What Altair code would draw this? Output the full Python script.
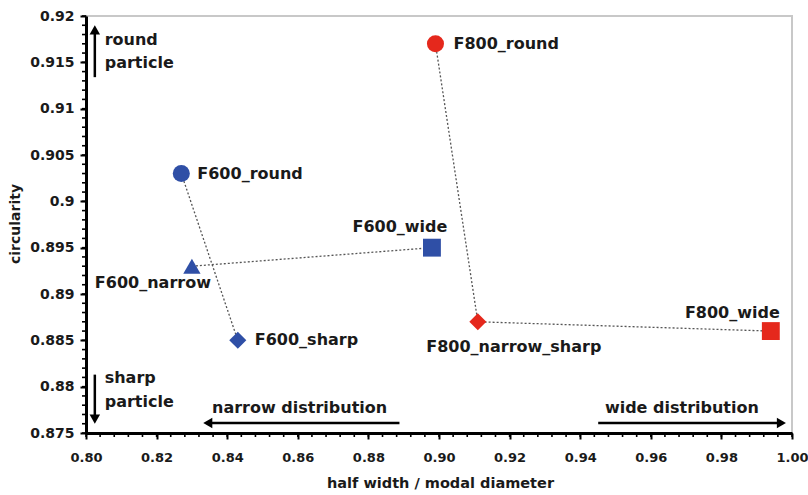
import altair as alt
import pandas as pd

# ---- data ----
names = ["F600_round", "F600_narrow", "F600_sharp", "F600_wide",
         "F800_round", "F800_narrow_sharp", "F800_wide"]
half_width = [0.827, 0.830, 0.843, 0.898, 0.899, 0.911, 0.994]
circularity = [0.903, 0.893, 0.885, 0.895, 0.917, 0.887, 0.886]
series = ["F600", "F600", "F600", "F600", "F800", "F800", "F800"]
shapes = ["circle", "triangle-up", "diamond", "square", "circle", "diamond", "square"]

# connecting dotted lines (groups of point names)
links = [["F600_round", "F600_sharp"],
         ["F600_narrow", "F600_wide"],
         ["F800_round", "F800_narrow_sharp", "F800_wide"]]

x_ticks = [0.80, 0.82, 0.84, 0.86, 0.88, 0.90, 0.92, 0.94, 0.96, 0.98, 1.00]
y_ticks = [0.875, 0.88, 0.885, 0.89, 0.895, 0.90, 0.905, 0.91, 0.915, 0.92]
x_minor = [round(0.80 + 0.004 * k, 3) for k in range(51)]
y_minor = [round(0.875 + 0.001 * k, 3) for k in range(46)]

# ---- styles ----
BLUE = "#2f4fa6"
RED = "#e5281c"
FONT = "DejaVu Sans"
TXT = "#1a1a1a"

df = pd.DataFrame({"name": names, "x": half_width, "y": circularity,
                   "series": series, "shape": shapes})

line_rows = []
for gi, grp in enumerate(links):
    for oi, n in enumerate(grp):
        i = names.index(n)
        line_rows.append({"g": gi, "o": oi, "x": half_width[i], "y": circularity[i]})
ldf = pd.DataFrame(line_rows)

xs = alt.Scale(domain=[0.80, 1.00], nice=False, zero=False)
ys = alt.Scale(domain=[0.875, 0.92], nice=False, zero=False)

W, H = 706, 417

x_axis = alt.Axis(values=x_ticks, tickCount=100, labelOverlap=False, format=".2f",
                  title="half width / modal diameter", grid=False,
                  domainColor="black", domainWidth=3, tickColor="black", tickWidth=2, tickSize=6,
                  labelFont=FONT, labelFontSize=13, labelFontWeight="bold", labelColor=TXT,
                  labelPadding=12, titleFont=FONT, titleFontSize=14.5, titleFontWeight="bold",
                  titleColor=TXT, titleX=W / 2 + 1, titleY=50, titleBaseline="middle",
                  titleAlign="center", labelFlush=False)
y_axis = alt.Axis(values=y_ticks, tickCount=100, labelOverlap=False, format="~g",
                  title="circularity", grid=False,
                  domainColor="black", domainWidth=3, tickColor="black", tickWidth=2, tickSize=6,
                  labelFont=FONT, labelFontSize=14, labelFontWeight="bold", labelColor=TXT,
                  labelPadding=6, titleFont=FONT, titleFontSize=14, titleFontWeight="bold",
                  titleColor=TXT, titleX=-71, titleY=H / 2 - 1, titleAngle=270,
                  titleBaseline="middle", titleAlign="center", labelFlush=False)

lines = alt.Chart(ldf).mark_line(color="#555", strokeDash=[2, 2], strokeWidth=1.3).encode(
    x=alt.X("x:Q", scale=xs, axis=x_axis),
    y=alt.Y("y:Q", scale=ys, axis=y_axis),
    detail="g:N", order="o:Q")

# minor ticks
xm = alt.Chart(pd.DataFrame({"v": x_minor})).mark_rule(color="black", strokeWidth=1.6).encode(
    x=alt.X("v:Q", scale=xs), y=alt.value(H), y2=alt.value(H + 4))
ym = alt.Chart(pd.DataFrame({"v": y_minor})).mark_rule(color="black", strokeWidth=1.6).encode(
    y=alt.Y("v:Q", scale=ys), x=alt.value(0), x2=alt.value(-4))

color = alt.Color("series:N", scale=alt.Scale(domain=["F600", "F800"], range=[BLUE, RED]), legend=None)

pts = []
for shp, size in [("circle", 290), ("triangle-up", 300), ("diamond", 290), ("square", 320)]:
    pts.append(alt.Chart(df).transform_filter(alt.datum.shape == shp).mark_point(
        shape=shp, filled=True, opacity=1, size=size).encode(
        x=alt.X("x:Q", scale=xs), y=alt.Y("y:Q", scale=ys), color=color))

# label placement (styles)
label_style = {
    "F600_round": dict(align="left", dx=16, dy=0),
    "F600_narrow": dict(align="center", dx=-39, dy=17),
    "F600_sharp": dict(align="left", dx=17, dy=0),
    "F600_wide": dict(align="center", dx=-32, dy=-21),
    "F800_round": dict(align="left", dx=18, dy=0),
    "F800_narrow_sharp": dict(align="center", dx=36, dy=25),
    "F800_wide": dict(align="right", dx=9, dy=-18),
}
labels = []
for n, st in label_style.items():
    labels.append(alt.Chart(df).transform_filter(alt.datum.name == n).mark_text(
        font=FONT, fontSize=16, fontWeight="bold", color=TXT, baseline="middle", **st).encode(
        x=alt.X("x:Q", scale=xs), y=alt.Y("y:Q", scale=ys), text="name:N"))

# ---- annotations ----
ann_arrow_x1 = [0.8025, 0.8025, 0.8888, 0.9451]
ann_arrow_x2 = [0.8025, 0.8025, 0.8345, 0.9970]
ann_arrow_y1 = [0.9134, 0.8813, 0.87608, 0.87608]
ann_arrow_y2 = [0.9185, 0.8765, 0.87608, 0.87608]
head_angle = [0, 180, 270, 90]
adf = pd.DataFrame({"x1": ann_arrow_x1, "x2": ann_arrow_x2, "y1": ann_arrow_y1,
                    "y2": ann_arrow_y2, "angle": head_angle})
shafts = alt.Chart(adf).mark_rule(color="black", strokeWidth=2.5).encode(
    x=alt.X("x1:Q", scale=xs), x2="x2:Q", y=alt.Y("y1:Q", scale=ys), y2="y2:Q")
heads = alt.Chart(adf).mark_point(shape="triangle-up", filled=True, color="black",
                                  opacity=1, size=110).encode(
    x=alt.X("x2:Q", scale=xs), y=alt.Y("y2:Q", scale=ys),
    angle=alt.Angle("angle:Q", scale=None))

ann_text = ["round", "particle", "sharp", "particle", "narrow distribution", "wide distribution"]
ann_x = [0.8053, 0.8053, 0.8053, 0.8053, 0.8605, 0.9688]
ann_y = [0.9174, 0.9149, 0.8809, 0.8783, 0.87775, 0.87775]
ann_align = ["left", "left", "left", "left", "center", "center"]
tdf = pd.DataFrame({"t": ann_text, "x": ann_x, "y": ann_y, "al": ann_align})
ann_left = alt.Chart(tdf).transform_filter(alt.datum.al == "left").mark_text(
    font=FONT, fontSize=16, fontWeight="bold", color=TXT, align="left", baseline="middle").encode(
    x=alt.X("x:Q", scale=xs), y=alt.Y("y:Q", scale=ys), text="t:N")
ann_center = alt.Chart(tdf).transform_filter(alt.datum.al == "center").mark_text(
    font=FONT, fontSize=16, fontWeight="bold", color=TXT, align="center", baseline="middle").encode(
    x=alt.X("x:Q", scale=xs), y=alt.Y("y:Q", scale=ys), text="t:N")

chart = alt.layer(lines, xm, ym, *pts, *labels, shafts, heads, ann_left, ann_center).properties(
    width=W, height=H,
    padding={"left": 86, "top": 16, "right": 16, "bottom": 62},
    autosize=alt.AutoSizeParams(type="none"),
    background="white",
).configure_view(stroke="#c8c8c8", strokeWidth=2)

chart.save("out.html", embed_options={"renderer": "svg", "actions": False})
